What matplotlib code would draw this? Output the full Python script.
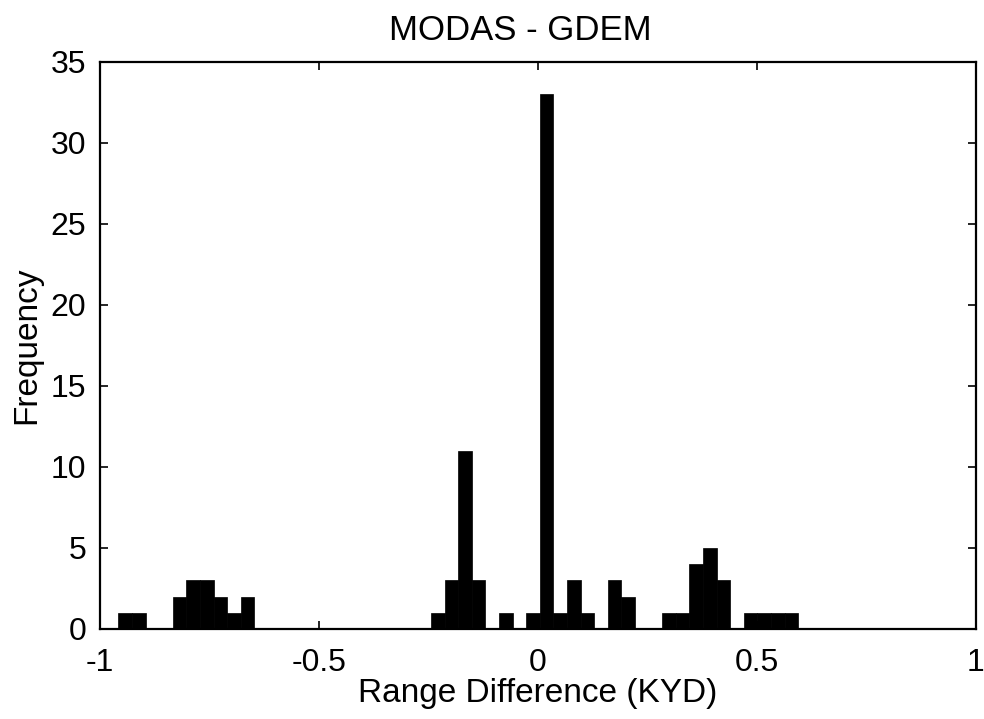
import numpy as np
import matplotlib
matplotlib.use("Agg")
import matplotlib.pyplot as plt

plt.rcParams['font.family'] = ['Liberation Sans', 'DejaVu Sans']

# histogram: 50 equal bins between the data min and max
data_min = -0.958
data_max = 0.594
counts = [1, 1, 0, 0, 2, 3, 3, 2, 1, 2,
          0, 0, 0, 0, 0, 0, 0, 0, 0, 0,
          0, 0, 0, 1, 3, 11, 3, 0, 1, 0,
          1, 33, 1, 3, 1, 0, 3, 2, 0, 0,
          1, 1, 4, 5, 3, 0, 1, 1, 1, 1]
x_ticks = [-1, -0.5, 0, 0.5, 1]
x_tick_labels = ['-1', '-0.5', '0', '0.5', '1']
y_ticks = [0, 5, 10, 15, 20, 25, 30, 35]

edges = np.linspace(data_min, data_max, len(counts) + 1)

fig = plt.figure(figsize=(9.84, 7.19), dpi=100)
ax = fig.add_axes([0.1016, 0.1252, 0.8902, 0.7886])
ax.hist(edges[:-1], bins=edges, weights=counts, color='black', edgecolor='black', linewidth=0.5)

ax.set_xlim(-1, 1)
ax.set_ylim(0, 35)
ax.set_xticks(x_ticks)
ax.set_xticklabels(x_tick_labels)
ax.set_yticks(y_ticks)
ax.tick_params(direction='in', top=True, right=True, labelsize=23, length=6, width=1.2)
ax.tick_params(axis='x', pad=14)
ax.tick_params(axis='y', pad=10)
for s in ax.spines.values():
    s.set_linewidth(1.6)

ax.set_title('MODAS - GDEM', fontsize=25, pad=16, x=0.48)
ax.set_xlabel('Range Difference (KYD)', fontsize=24, labelpad=0)
ax.set_ylabel('Frequency', fontsize=24, labelpad=6)

fig.savefig('out.png', dpi=100)
